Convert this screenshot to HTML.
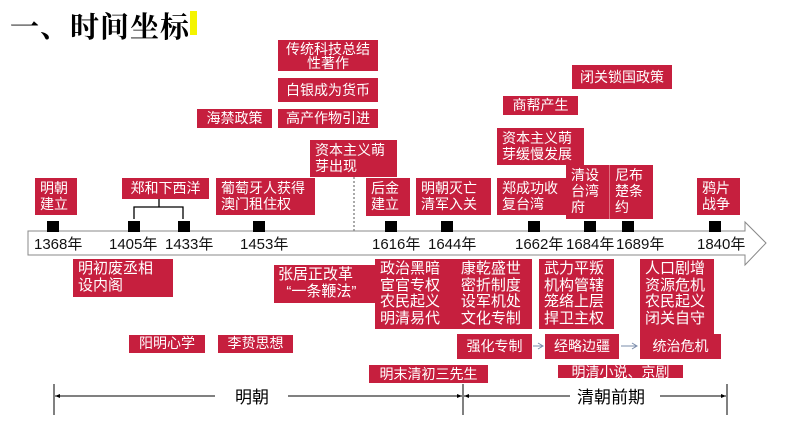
<!DOCTYPE html>
<html><head><meta charset="utf-8"><style>
body{margin:0;width:794px;height:447px;background:#fff;position:relative;overflow:hidden;font-family:"Liberation Sans","Noto Sans CJK SC",sans-serif}
.b{position:absolute;background:#c61f3e;color:#fff;font-size:14px;line-height:18px;box-sizing:border-box;padding:2px 5px;white-space:nowrap}
.c{text-align:center}
.m{position:absolute;background:#000;width:12px;height:11px;top:221px}
.y{position:absolute;top:233px;font-size:15px;color:#111}
.a{position:absolute}
.big{font-size:15px;line-height:16.5px}
</style></head><body>
<div class="a" style="left:10px;top:5px;font-size:29px;font-weight:bold;font-family:'Noto Serif CJK SC','Noto Sans CJK SC',serif;letter-spacing:1px">一、时间坐标</div>
<div class="a" style="left:190px;top:11px;width:7px;height:24px;background:#f4f400"></div>

<div class="b c" style="left:278px;top:40px;width:100px;height:31px;line-height:14px;padding-top:2px">传统科技总结<br>性著作</div>
<div class="b c" style="left:278px;top:78px;width:100px;height:24px;line-height:20px">白银成为货币</div>
<div class="b c" style="left:197px;top:109px;width:75px;height:19px;line-height:16px;padding-top:1px">海禁政策</div>
<div class="b c" style="left:278px;top:109px;width:100px;height:19px;line-height:16px;padding-top:1px">高产作物引进</div>
<div class="b" style="left:310px;top:140px;width:87px;height:37px;line-height:16px">资本主义萌<br>芽出现</div>
<div class="b" style="left:35px;top:178px;width:42px;height:37px;line-height:16px">明朝<br>建立</div>
<div class="b c" style="left:122px;top:178px;width:87px;height:21px;line-height:17px">郑和下西洋</div>
<div class="b" style="left:216px;top:178px;width:99px;height:37px;line-height:16px">葡萄牙人获得<br>澳门租住权</div>
<div class="b" style="left:366px;top:178px;width:44px;height:38px;line-height:16px">后金<br>建立</div>
<div class="b" style="left:416px;top:178px;width:75px;height:37px;line-height:16px">明朝灭亡<br>清军入关</div>
<div class="b" style="left:497px;top:178px;width:69px;height:37px;line-height:16px">郑成功收<br>复台湾</div>
<div class="b" style="left:497px;top:128px;width:87px;height:37px;line-height:16px">资本主义萌<br>芽缓慢发展</div>
<div class="b c" style="left:503px;top:96px;width:75px;height:19px;line-height:16px;padding-top:1px">商帮产生</div>
<div class="b c" style="left:572px;top:65px;width:100px;height:24px;line-height:20px">闭关锁国政策</div>
<div class="b" style="left:566px;top:165px;width:43px;height:54px;line-height:16px">清设<br>台湾<br>府</div>
<div class="b" style="left:609px;top:165px;width:44px;height:54px;line-height:16px;border-left:1px solid #e07080">尼布<br>楚条<br>约</div>
<div class="b" style="left:697px;top:178px;width:43px;height:37px;line-height:16px">鸦片<br>战争</div>

<svg class="a" style="left:0;top:0" width="794" height="447">
<path d="M159 199 V207 M134 219 V207 H183 V219" stroke="#000" stroke-width="1.3" fill="none"/>
<line x1="354" y1="177" x2="354" y2="232" stroke="#555" stroke-dasharray="2,2"/>
<path d="M28 231 H745 V222 L766 243 L745 265 V255 H28 Z" fill="#fff" stroke="#888" stroke-width="1"/>
<path d="M533 346 H542 M538 343 L543 346 L538 349 M621 346 H636 M632 343 L637 346 L632 349" stroke="#7a8cab" stroke-width="1" fill="none"/>
<line x1="54" y1="384" x2="54" y2="415" stroke="#000"/>
<line x1="463" y1="384" x2="463" y2="415" stroke="#000"/>
<line x1="727" y1="384" x2="727" y2="415" stroke="#000"/>
<path d="M55 396 H215 M288 396 H462 M464 396 H570 M660 396 H726" stroke="#000" stroke-width="1"/>
<path d="M55 396 l5 -2 v4 Z M462 396 l-5 -2 v4 Z M464 396 l5 -2 v4 Z M726 396 l-5 -2 v4 Z" fill="#000"/>
</svg>
<div class="m" style="left:47px"></div><div class="m" style="left:128px"></div><div class="m" style="left:178px"></div><div class="m" style="left:253px"></div><div class="m" style="left:385px"></div><div class="m" style="left:441px"></div><div class="m" style="left:528px"></div><div class="m" style="left:584px"></div><div class="m" style="left:622px"></div><div class="m" style="left:709px"></div>
<div class="y" style="left:34px">1368年</div><div class="y" style="left:109px">1405年</div><div class="y" style="left:165px">1433年</div><div class="y" style="left:240px">1453年</div><div class="y" style="left:372px">1616年</div><div class="y" style="left:428px">1644年</div><div class="y" style="left:515px">1662年</div><div class="y" style="left:566px">1684年</div><div class="y" style="left:616px">1689年</div><div class="y" style="left:697px">1840年</div>

<div class="b big" style="left:73px;top:259px;width:100px;height:38px">明初废丞相<br>设内阁</div>
<div class="b big" style="left:274px;top:265px;width:102px;height:38px;padding-left:4px">张居正改革<br>&nbsp;&nbsp;“一条鞭法”</div>
<div class="b big" style="left:375px;top:259px;width:157px;height:70px">政治黑暗&nbsp;&nbsp;&nbsp;&nbsp;&nbsp;康乾盛世<br>宦官专权&nbsp;&nbsp;&nbsp;&nbsp;&nbsp;密折制度<br>农民起义&nbsp;&nbsp;&nbsp;&nbsp;&nbsp;设军机处<br>明清易代&nbsp;&nbsp;&nbsp;&nbsp;&nbsp;文化专制</div>
<div class="b big" style="left:539px;top:259px;width:75px;height:70px">武力平叛<br>机构管辖<br>笼络上层<br>捍卫主权</div>
<div class="b big" style="left:640px;top:259px;width:74px;height:76px">人口剧增<br>资源危机<br>农民起义<br>闭关自守</div>
<div class="b c" style="left:129px;top:335px;width:76px;height:18px;line-height:15px;padding-top:1px">阳明心学</div>
<div class="b c" style="left:218px;top:335px;width:75px;height:18px;line-height:15px;padding-top:1px">李贽思想</div>
<div class="b c" style="left:457px;top:334px;width:75px;height:25px;line-height:21px">强化专制</div>
<div class="b c" style="left:545px;top:334px;width:74px;height:25px;line-height:21px">经略边疆</div>
<div class="b c" style="left:640px;top:334px;width:81px;height:25px;line-height:21px">统治危机</div>
<div class="b c" style="left:369px;top:365px;width:119px;height:18px;line-height:16px;padding-top:1px">明末清初三先生</div>
<div class="b c" style="left:558px;top:365px;width:125px;height:13px;line-height:14px;padding-top:0;overflow:hidden">明清小说、京剧</div>
<div class="a" style="left:235px;top:383px;font-size:17px">明朝</div>
<div class="a" style="left:577px;top:383px;font-size:17px">清朝前期</div>
</body></html>
